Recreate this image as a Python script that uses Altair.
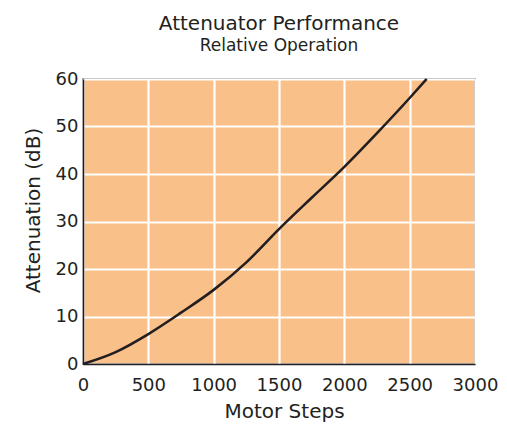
import altair as alt
import pandas as pd

steps = [0, 250, 500, 750, 1000, 1250, 1500, 1750, 2000, 2250, 2500, 2630]
atten = [0, 2.5, 6.3, 10.8, 15.6, 21.4, 28.4, 35.0, 41.5, 48.6, 56.0, 60.0]

df = pd.DataFrame({"steps": steps, "atten": atten})

FONT = "DejaVu Sans"

line = alt.Chart(df).mark_line(color="#231f20", strokeWidth=2.6, interpolate="monotone").encode(
    x=alt.X("steps:Q", scale=alt.Scale(domain=[0, 3000], nice=False),
            axis=alt.Axis(title="Motor Steps", values=[0, 500, 1000, 1500, 2000, 2500, 3000],
                          format="d", labelOverlap=False, labelFlush=False,
                          grid=True, gridColor="white", gridWidth=2.2, gridOpacity=1,
                          ticks=False, labelPadding=12, labelFontSize=18, titleFontSize=20,
                          labelColor="#231f20", titleColor="#231f20", titleFontWeight="normal",
                          domainColor="#231f20", domainWidth=1.5, titlePadding=7, titleX=201,
                          labelFont=FONT, titleFont=FONT)),
    y=alt.Y("atten:Q", scale=alt.Scale(domain=[0, 60], nice=False),
            axis=alt.Axis(title="Attenuation (dB)", values=[0, 10, 20, 30, 40, 50, 60],
                          format="d", labelOverlap=False, labelFlush=False,
                          grid=True, gridColor="white", gridWidth=2.2, gridOpacity=1,
                          ticks=False, labelPadding=5, labelFontSize=18, titleFontSize=20,
                          labelColor="#231f20", titleColor="#231f20", titleFontWeight="normal",
                          domainColor="#231f20", domainWidth=1.5, titlePadding=12, titleY=131,
                          labelFont=FONT, titleFont=FONT)),
)

chart = line.properties(
    width=392,
    height=285,
    title=alt.TitleParams(
        text="Attenuator Performance",
        subtitle="Relative Operation",
        font=FONT, fontSize=20, fontWeight="normal", color="#231f20",
        subtitleFont=FONT, subtitleFontSize=17, subtitleColor="#231f20",
        subtitlePadding=4, anchor="middle", offset=16,
    ),
    autosize=alt.AutoSizeParams(type="none"),
    padding={"left": 75, "top": 71, "right": 24, "bottom": 60},
).configure_view(
    fill="#f9c089", stroke="#6d6a69", strokeWidth=1.5
)

chart.save("out.html", embed_options={"renderer": "svg", "actions": False})
